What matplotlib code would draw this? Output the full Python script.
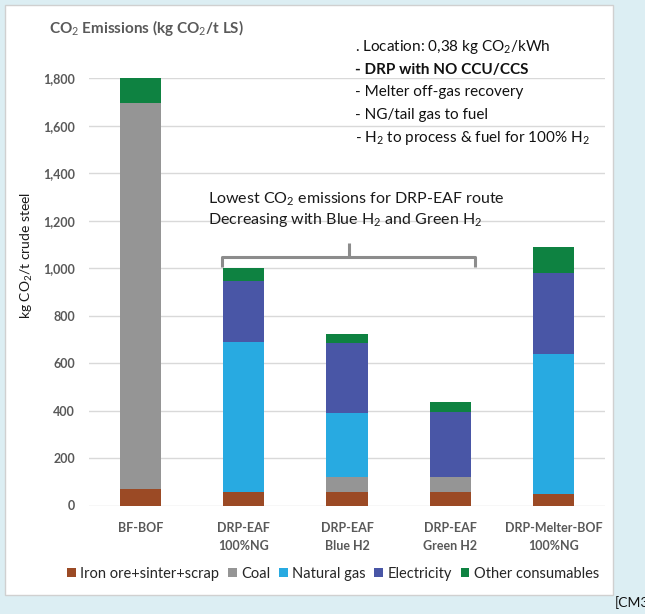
import matplotlib
matplotlib.use("agg")
import matplotlib.pyplot as plt
from matplotlib.patches import Rectangle, Patch
from matplotlib.ticker import FuncFormatter
import numpy as np

plt.rcParams['font.family'] = ['Lato', 'DejaVu Sans']
plt.rcParams['mathtext.fontset'] = 'custom'
plt.rcParams['mathtext.rm'] = 'Lato'
plt.rcParams['mathtext.it'] = 'Lato:italic'
plt.rcParams['mathtext.bf'] = 'Lato:bold'

# routes and emission contributions (kg CO2 / t crude steel)
routes = ['BF-BOF', 'DRP-EAF\n100%NG', 'DRP-EAF\nBlue H2', 'DRP-EAF\nGreen H2', 'DRP-Melter-BOF\n100%NG']
iron_ore = [70, 55, 55, 55, 50]
coal = [1625, 0, 67, 67, 0]
natural_gas = [0, 635, 268, 0, 588]
electricity = [0, 255, 295, 273, 340]
other = [105, 55, 37, 40, 112]

series = [
    ('Iron ore+sinter+scrap', iron_ore, '#9B4A25'),
    ('Coal', coal, '#959595'),
    ('Natural gas', natural_gas, '#28AAE1'),
    ('Electricity', electricity, '#4956A6'),
    ('Other consumables', other, '#0E8241'),
]

W, H = 645, 614
fig = plt.figure(figsize=(W / 100, H / 100), dpi=100)
fig.patch.set_facecolor('#DCEEF3')

def fx(x):
    return x / W

def fy(y):
    return 1 - y / H

# white chart panel
panel = Rectangle((fx(5), fy(595)), fx(613) - fx(5), fy(5) - fy(595),
                  transform=fig.transFigure, facecolor='white',
                  edgecolor='#D0D0D0', linewidth=1, zorder=-10)
fig.patches.append(panel)

ax = fig.add_axes([fx(89), fy(505.5), fx(605) - fx(89), fy(78.3) - fy(505.5)])
ax.set_facecolor('none')
ax.set_zorder(2)

x = np.arange(len(routes))
bottom = np.zeros(len(routes))
for name, vals, col in series:
    ax.bar(x, vals, 0.4, bottom=bottom, color=col, label=name, zorder=3)
    bottom += np.array(vals)

ax.set_xlim(-0.5, 4.5)
ax.set_ylim(0, 1800)
ax.set_yticks(np.arange(0, 1801, 200))
ax.yaxis.set_major_formatter(FuncFormatter(lambda v, p: f'{int(v):,}'))
ax.grid(axis='y', color='#D9D9D9', linewidth=1, zorder=0)
ax.set_axisbelow(True)
for s in ax.spines.values():
    s.set_visible(False)
ax.tick_params(axis='both', length=0, colors='#595959')
ax.tick_params(axis='y', pad=10, labelsize=9)
ax.tick_params(axis='x', pad=12, labelsize=9)
ax.set_xticks(x)
ax.set_xticklabels(routes, fontweight='bold', linespacing=1.6)
for t in ax.get_yticklabels():
    t.set_fontweight('bold')

fig.text(fx(27), fy(255), 'kg CO$_2$/t crude steel', fontsize=10, color='#1a1a1a',
         rotation=90, ha='center', va='center')

# bracket over the DRP-EAF routes
bx0, bx1, bxm = 0.786, 3.24, 2.02
by, byb, byt = 1048, 1005, 1106
ax.plot([bx0, bx0, bx1, bx1], [byb, by, by, byb], color='#8C8C8C', lw=2.2,
        solid_joinstyle='round', solid_capstyle='butt', zorder=4)
ax.plot([bxm, bxm], [by, byt], color='#8C8C8C', lw=2.2, solid_capstyle='butt', zorder=4)
ax.text(0.65, 1291, 'Lowest CO$_2$ emissions for DRP-EAF route', fontsize=11.5,
        va='center', ha='left', color='#1a1a1a')
ax.text(0.65, 1203, 'Decreasing with Blue H$_2$ and Green H$_2$', fontsize=11.5,
        va='center', ha='left', color='#1a1a1a')

# title and notes
fig.text(fx(49), fy(28), 'CO$_2$ Emissions (kg CO$_2$/t LS)', fontsize=11,
         fontweight='bold', color='#595959', va='center', ha='left')
notes = [
    ('. Location: 0,38 kg CO$_2$/kWh', 'normal'),
    ('- DRP with NO CCU/CCS', 'bold'),
    ('- Melter off-gas recovery', 'normal'),
    ('- NG/tail gas to fuel', 'normal'),
    ('- H$_2$ to process & fuel for 100% H$_2$', 'normal'),
]
for i, (txt, wt) in enumerate(notes):
    fig.text(fx(355), fy(47 + i * 22.7), txt, fontsize=11, fontweight=wt,
             color='#111111', va='center', ha='left')

handles = [Patch(facecolor=c, label=n) for n, _, c in series]
fig.legend(handles=handles, loc='center', bbox_to_anchor=(fx(333), fy(574)),
           ncol=5, frameon=False, fontsize=10.5, handlelength=0.6, handleheight=0.6,
           handletextpad=0.3, columnspacing=0.6, labelcolor='#262626')

fig.text(fx(615), fy(603), '[CM3', fontsize=10, color='#111111', va='center', ha='left')

fig.savefig('out.png', dpi=100, facecolor=fig.get_facecolor())
